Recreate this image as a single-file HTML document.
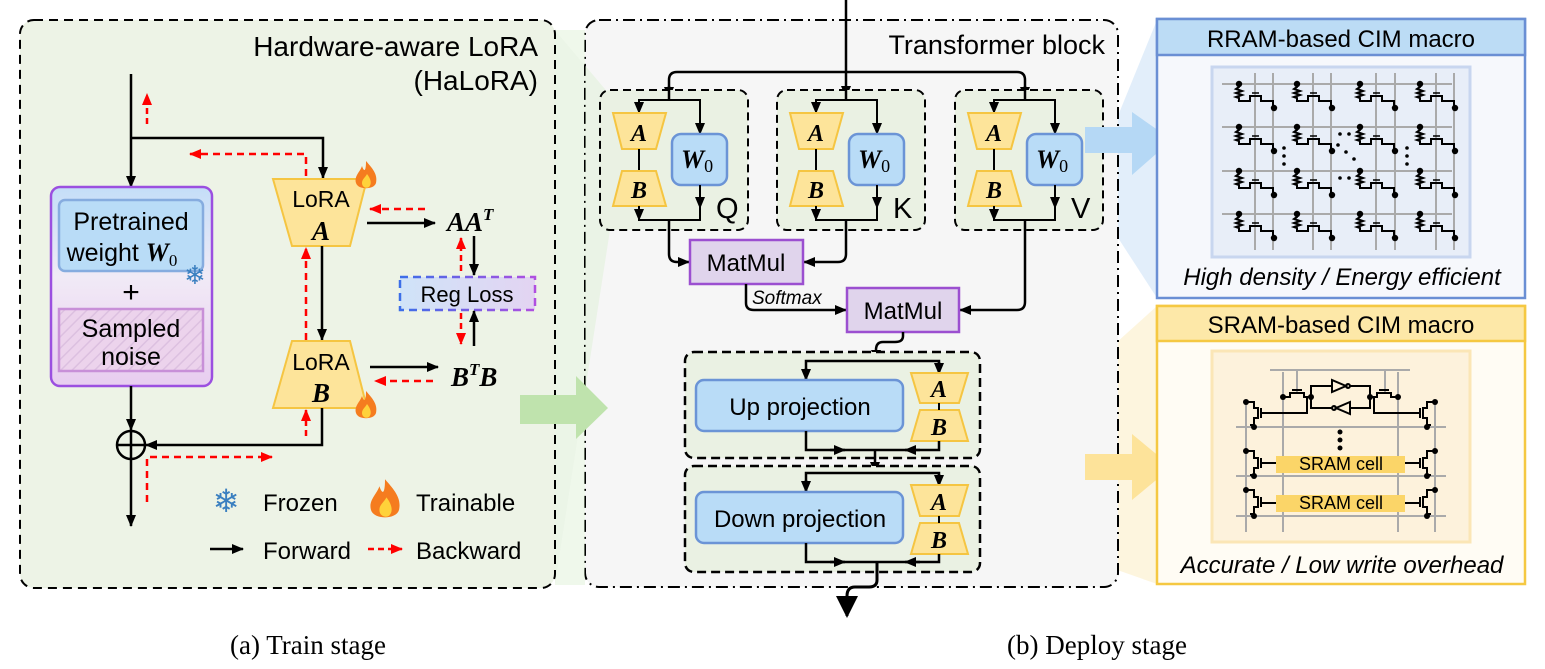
<!DOCTYPE html>
<html><head><meta charset="utf-8"><style>
html,body{margin:0;padding:0;background:#fff;}
svg{display:block;font-family:"Liberation Sans",sans-serif;}
.s{font-family:"Liberation Serif",serif;font-weight:bold;font-style:italic;}
</style></head><body>
<svg width="1545" height="669" viewBox="0 0 1545 669" xmlns="http://www.w3.org/2000/svg">
<defs>
<marker id="ak" markerUnits="userSpaceOnUse" markerWidth="12" markerHeight="12" refX="11" refY="6" orient="auto"><path d="M0,1 L12,6 L0,11 z" fill="#000"/></marker>
<marker id="ar" markerUnits="userSpaceOnUse" markerWidth="12" markerHeight="12" refX="11" refY="6" orient="auto"><path d="M0,1 L12,6 L0,11 z" fill="#f00"/></marker>
<marker id="abig" markerUnits="userSpaceOnUse" markerWidth="22" markerHeight="22" refX="20" refY="11" orient="auto"><path d="M0,0 L22,11 L0,22 z" fill="#000"/></marker>
<linearGradient id="gbox" x1="0" y1="0" x2="0" y2="1"><stop offset="0" stop-color="#c4def8"/><stop offset="0.45" stop-color="#f1eaf6"/><stop offset="1" stop-color="#e8cdf0"/></linearGradient>
<linearGradient id="greg" x1="0" y1="0" x2="1" y2="0"><stop offset="0" stop-color="#cfe3f8"/><stop offset="1" stop-color="#e3d4f2"/></linearGradient>
<linearGradient id="gregs" x1="0" y1="0" x2="1" y2="0"><stop offset="0" stop-color="#3c6ee8"/><stop offset="1" stop-color="#b04fe0"/></linearGradient>
<pattern id="hatch" width="8" height="8" patternUnits="userSpaceOnUse" patternTransform="rotate(45)"><rect width="8" height="8" fill="#ecd3ec"/><line x1="0" y1="0" x2="0" y2="8" stroke="#dcc0e0" stroke-width="3"/></pattern>
<g id="flame"><path d="M0,-17 C6,-10 12,-4 10,5 C8,12 -8,12 -10,5 C-12,-2 -6,-6 -4,-12 C-2,-6 0,-6 0,-17 z" fill="#f57c1f"/><path d="M1,-4 C5,1 6,6 3,9 C0,11 -4,9 -4,5 C-4,1 -1,0 1,-4 z" fill="#ffd23a"/></g>
<g id="qkv">
<rect x="0" y="0" width="148" height="140" rx="10" fill="#eaf1e3" stroke="#000" stroke-width="2" stroke-dasharray="8,5"/>
<polyline points="39,23 39,10 100,10 100,44" fill="none" stroke="#000" stroke-width="2"/>
<line x1="39" y1="10" x2="39" y2="23" stroke="#000" stroke-width="2" marker-end="url(#ak)"/>
<line x1="100" y1="30" x2="100" y2="44" stroke="#000" stroke-width="2" marker-end="url(#ak)"/>
<polygon points="13,23 66,23 56,59 22,59" fill="#fde49a" stroke="#f5c542" stroke-width="2"/>
<line x1="39" y1="59" x2="39" y2="81" stroke="#000" stroke-width="2"/>
<polygon points="22,81 56,81 66,116 13,116" fill="#fde49a" stroke="#f5c542" stroke-width="2"/>
<text x="39" y="51" class="s" font-size="24" text-anchor="middle">A</text>
<text x="39" y="108" class="s" font-size="24" text-anchor="middle">B</text>
<rect x="72" y="44" width="55" height="51" rx="9" fill="#b9dcf7" stroke="#6b94d6" stroke-width="2.5"/>
<text x="97" y="78" text-anchor="middle"><tspan class="s" font-size="26">W</tspan><tspan font-size="18" font-family="Liberation Serif" dy="4">0</tspan></text>
<polyline points="39,116 39,130 100,130 100,95" fill="none" stroke="#000" stroke-width="2"/>
<line x1="39" y1="118" x2="39" y2="130" stroke="#000" stroke-width="2" marker-end="url(#ak)"/>
<line x1="100" y1="100" x2="100" y2="118" stroke="#000" stroke-width="2" marker-end="url(#ak)"/>
</g>
<g id="cell"><path d="M0,0 V3 l-3,2 l6,2 l-6,2 l6,2 l-6,2 l3,1 V17 H11 V12 H22 V17 H34 V24" fill="none" stroke="#000" stroke-width="2"/><line x1="13" y1="9" x2="20" y2="9" stroke="#000" stroke-width="1.5"/><circle cx="0" cy="0" r="3.2"/><circle cx="35" cy="24" r="3.2"/></g>
</defs>

<!-- fans -->
<polygon points="555,30 610,95 610,230 555,585" fill="#d8ecd0" opacity="0.5"/>
<polygon points="1100,160 1157,20 1157,298 1100,210" fill="#cfe3f7" opacity="0.6"/>
<polygon points="975,470 1157,306 1157,584 975,520" fill="#fcefc8" opacity="0.6"/>

<!-- LEFT PANEL -->
<rect x="20" y="20" width="535" height="568" rx="14" fill="#edf3e6" stroke="#000" stroke-width="2" stroke-dasharray="9,6"/>
<text x="538" y="56" font-size="28" text-anchor="end">Hardware-aware LoRA</text>
<text x="538" y="90" font-size="28" text-anchor="end">(HaLoRA)</text>

<line x1="131" y1="74" x2="131" y2="187" stroke="#000" stroke-width="2.5" marker-end="url(#ak)"/>
<rect x="51" y="187" width="161" height="199" rx="9" fill="url(#gbox)" stroke="#9b4fe0" stroke-width="2.5"/>
<rect x="59" y="200" width="144" height="71" rx="6" fill="#b9dcf7" stroke="#86acdf" stroke-width="2.5"/>
<text x="131" y="230" font-size="25" text-anchor="middle">Pretrained</text>
<text x="122" y="261" font-size="25" text-anchor="middle">weight <tspan class="s" font-size="26">W</tspan><tspan font-family="Liberation Serif" font-size="17" dy="5">0</tspan></text>
<text x="195" y="284" font-size="26" fill="#3a7fc0" text-anchor="middle" font-family="DejaVu Sans">❄</text>
<text x="131" y="302" font-size="30" text-anchor="middle">+</text>
<rect x="59" y="309" width="144" height="62" fill="url(#hatch)" stroke="#c890d8" stroke-width="2.5"/>
<text x="131" y="337" font-size="25" text-anchor="middle">Sampled</text>
<text x="131" y="365" font-size="25" text-anchor="middle">noise</text>

<polyline points="131,138 323,138 323,178" fill="none" stroke="#000" stroke-width="2.5" marker-end="url(#ak)"/>
<polygon points="273,179 367,179 350,246 292,246" fill="#fde49a" stroke="#f5c542" stroke-width="2"/>
<text x="321" y="207" font-size="23" text-anchor="middle">LoRA</text>
<text x="321" y="240" class="s" font-size="27" text-anchor="middle">A</text>
<use href="#flame" x="366" y="178"/>
<line x1="322" y1="246" x2="322" y2="340" stroke="#000" stroke-width="2.5" marker-end="url(#ak)"/>
<polygon points="292,341 350,341 367,408 273,408" fill="#fde49a" stroke="#f5c542" stroke-width="2"/>
<text x="321" y="370" font-size="23" text-anchor="middle">LoRA</text>
<text x="321" y="402" class="s" font-size="27" text-anchor="middle">B</text>
<use href="#flame" x="366" y="408"/>

<line x1="367" y1="223" x2="435" y2="223" stroke="#000" stroke-width="2.5" marker-end="url(#ak)"/>
<text x="447" y="231" class="s" font-size="27">AA<tspan font-size="17" dy="-11">T</tspan></text>
<line x1="370" y1="367" x2="438" y2="367" stroke="#000" stroke-width="2.5" marker-end="url(#ak)"/>
<text x="451" y="386" class="s" font-size="27">B<tspan font-size="17" dy="-11">T</tspan><tspan dy="11">B</tspan></text>
<rect x="400" y="277" width="135" height="33" fill="url(#greg)" stroke="url(#gregs)" stroke-width="2.5" stroke-dasharray="8,5"/>
<text x="467" y="302" font-size="22" text-anchor="middle">Reg Loss</text>
<line x1="474" y1="236" x2="474" y2="275" stroke="#000" stroke-width="2.5" marker-end="url(#ak)"/>
<line x1="474" y1="346" x2="474" y2="311" stroke="#000" stroke-width="2.5" marker-end="url(#ak)"/>
<line x1="461" y1="271" x2="461" y2="238" stroke="#f00" stroke-width="2.5" stroke-dasharray="6,4" marker-end="url(#ar)"/>
<line x1="461" y1="313" x2="461" y2="344" stroke="#f00" stroke-width="2.5" stroke-dasharray="6,4" marker-end="url(#ar)"/>
<line x1="425" y1="209" x2="370" y2="209" stroke="#f00" stroke-width="2.5" stroke-dasharray="7,5" marker-end="url(#ar)"/>
<line x1="433" y1="381" x2="375" y2="381" stroke="#f00" stroke-width="2.5" stroke-dasharray="7,5" marker-end="url(#ar)"/>

<polyline points="306,176 306,154 190,154" fill="none" stroke="#f00" stroke-width="2.5" stroke-dasharray="7,5" marker-end="url(#ar)"/>
<line x1="147" y1="124" x2="147" y2="94" stroke="#f00" stroke-width="2.5" stroke-dasharray="6,4" marker-end="url(#ar)"/>
<line x1="306" y1="340" x2="306" y2="248" stroke="#f00" stroke-width="2.5" stroke-dasharray="7,5" marker-end="url(#ar)"/>
<line x1="306" y1="436" x2="306" y2="410" stroke="#f00" stroke-width="2.5" stroke-dasharray="6,4" marker-end="url(#ar)"/>
<polyline points="147,502 147,457 272,457" fill="none" stroke="#f00" stroke-width="2.5" stroke-dasharray="7,5" marker-end="url(#ar)"/>

<line x1="131" y1="386" x2="131" y2="430" stroke="#000" stroke-width="2.5" marker-end="url(#ak)"/>
<polyline points="322,408 322,445 146,445" fill="none" stroke="#000" stroke-width="2.5" marker-end="url(#ak)"/>
<circle cx="131" cy="445" r="14" fill="none" stroke="#000" stroke-width="2.5"/>
<line x1="117" y1="445" x2="145" y2="445" stroke="#000" stroke-width="2.5"/>
<line x1="131" y1="431" x2="131" y2="459" stroke="#000" stroke-width="2.5"/>
<line x1="131" y1="459" x2="131" y2="526" stroke="#000" stroke-width="2.5" marker-end="url(#ak)"/>

<text x="226" y="512" font-size="32" fill="#3a7fc0" text-anchor="middle" font-family="DejaVu Sans">❄</text>
<text x="263" y="511" font-size="24">Frozen</text>
<use href="#flame" x="385" y="503" transform="translate(385,503) scale(1.4) translate(-385,-503)"/>
<text x="416" y="511" font-size="24">Trainable</text>
<line x1="210" y1="549" x2="243" y2="549" stroke="#000" stroke-width="2.5" marker-end="url(#ak)"/>
<text x="263" y="559" font-size="24">Forward</text>
<line x1="368" y1="549" x2="402" y2="549" stroke="#f00" stroke-width="2.5" stroke-dasharray="6,4" marker-end="url(#ar)"/>
<text x="416" y="559" font-size="24">Backward</text>

<!-- MIDDLE PANEL -->
<rect x="585" y="20" width="533" height="567" rx="14" fill="#f6f6f6" stroke="#000" stroke-width="2" stroke-dasharray="12,5,2,5"/>
<polygon points="555,30 610,95 610,230 555,585 585,585 585,30" fill="#dcefd2" opacity="0.45"/>
<!-- green arrow -->
<polygon points="520,395 576,395 576,376 608,408 576,439 576,424 520,424" fill="#bfe3ad"/>
<text x="1105" y="54" font-size="27" text-anchor="end">Transformer block</text>
<path d="M669,97 V80 Q669,72 677,72 H1017 Q1025,72 1025,80 V97" fill="none" stroke="#000" stroke-width="2.5"/>
<line x1="846" y1="0" x2="846" y2="97" stroke="#000" stroke-width="2.5" marker-end="url(#ak)"/>
<line x1="669" y1="86" x2="669" y2="98" stroke="#000" stroke-width="2.5" marker-end="url(#ak)"/>
<line x1="1025" y1="86" x2="1025" y2="98" stroke="#000" stroke-width="2.5" marker-end="url(#ak)"/>
<use href="#qkv" x="600" y="90"/>
<use href="#qkv" x="777" y="90"/>
<use href="#qkv" x="955" y="90"/>
<text x="716" y="218" font-size="29">Q</text>
<text x="893" y="218" font-size="29">K</text>
<text x="1071" y="218" font-size="29">V</text>
<line x1="669" y1="90" x2="669" y2="100" stroke="#000" stroke-width="2.5"/>
<line x1="846" y1="90" x2="846" y2="100" stroke="#000" stroke-width="2.5"/>
<line x1="1025" y1="90" x2="1025" y2="100" stroke="#000" stroke-width="2.5"/>

<path d="M669,220 V254 Q669,262 677,262 H689" fill="none" stroke="#000" stroke-width="2.5" marker-end="url(#ak)"/>
<path d="M846,220 V254 Q846,262 838,262 H804" fill="none" stroke="#000" stroke-width="2.5" marker-end="url(#ak)"/>
<rect x="690" y="240" width="113" height="44" fill="#e0d4ec" stroke="#9b4fd0" stroke-width="2.5"/>
<text x="746" y="271" font-size="24" text-anchor="middle">MatMul</text>
<path d="M746,284 V303 Q746,310 754,310 H846" fill="none" stroke="#000" stroke-width="2.5" marker-end="url(#ak)"/>
<text x="752" y="304" font-size="19" font-style="italic">Softmax</text>
<path d="M1025,220 V302 Q1025,310 1017,310 H960" fill="none" stroke="#000" stroke-width="2.5" marker-end="url(#ak)"/>
<rect x="847" y="288" width="112" height="44" fill="#e0d4ec" stroke="#9b4fd0" stroke-width="2.5"/>
<text x="903" y="319" font-size="24" text-anchor="middle">MatMul</text>
<path d="M903,332 V336 Q903,342 895,342 H883 Q876,342 876,350 V361" fill="none" stroke="#000" stroke-width="2.5" marker-end="url(#ak)"/>

<!-- up proj -->
<rect x="685" y="352" width="295" height="106" rx="9" fill="#eaf1e3" stroke="#000" stroke-width="2.5" stroke-dasharray="9,5"/>
<polyline points="806,380 806,361 939,361 939,373" fill="none" stroke="#000" stroke-width="2.5"/>
<line x1="806" y1="368" x2="806" y2="380" stroke="#000" stroke-width="2.5" marker-end="url(#ak)"/>
<line x1="939" y1="362" x2="939" y2="374" stroke="#000" stroke-width="2.5" marker-end="url(#ak)"/>
<rect x="696" y="380" width="207" height="51" rx="8" fill="#b9dcf7" stroke="#6b94d6" stroke-width="2.5"/>
<text x="800" y="415" font-size="24" text-anchor="middle">Up projection</text>
<polygon points="911,373 968,373 959,403 920,403" fill="#fde49a" stroke="#f5c542" stroke-width="2"/>
<polygon points="920,410 959,410 968,441 911,441" fill="#fde49a" stroke="#f5c542" stroke-width="2"/>
<line x1="939" y1="403" x2="939" y2="410" stroke="#000" stroke-width="2"/>
<text x="939" y="397" class="s" font-size="24" text-anchor="middle">A</text>
<text x="939" y="435" class="s" font-size="24" text-anchor="middle">B</text>
<polyline points="806,431 806,450 939,450 939,441" fill="none" stroke="#000" stroke-width="2.5"/>
<line x1="830" y1="450" x2="845" y2="450" stroke="#000" stroke-width="2.5" marker-end="url(#ak)"/>
<line x1="920" y1="450" x2="905" y2="450" stroke="#000" stroke-width="2.5" marker-end="url(#ak)"/>
<line x1="875" y1="450" x2="875" y2="473" stroke="#000" stroke-width="2.5" marker-end="url(#ak)"/>

<!-- down proj -->
<rect x="685" y="466" width="295" height="106" rx="9" fill="#eaf1e3" stroke="#000" stroke-width="2.5" stroke-dasharray="9,5"/>
<polyline points="806,492 806,473 939,473 939,485" fill="none" stroke="#000" stroke-width="2.5"/>
<line x1="806" y1="480" x2="806" y2="492" stroke="#000" stroke-width="2.5" marker-end="url(#ak)"/>
<line x1="939" y1="474" x2="939" y2="486" stroke="#000" stroke-width="2.5" marker-end="url(#ak)"/>
<rect x="696" y="492" width="207" height="51" rx="8" fill="#b9dcf7" stroke="#6b94d6" stroke-width="2.5"/>
<text x="800" y="527" font-size="24" text-anchor="middle">Down projection</text>
<polygon points="911,485 968,485 959,516 920,516" fill="#fde49a" stroke="#f5c542" stroke-width="2"/>
<polygon points="920,523 959,523 968,554 911,554" fill="#fde49a" stroke="#f5c542" stroke-width="2"/>
<line x1="939" y1="516" x2="939" y2="523" stroke="#000" stroke-width="2"/>
<text x="939" y="510" class="s" font-size="24" text-anchor="middle">A</text>
<text x="939" y="548" class="s" font-size="24" text-anchor="middle">B</text>
<polyline points="806,543 806,562 939,562 939,554" fill="none" stroke="#000" stroke-width="2.5"/>
<line x1="830" y1="562" x2="845" y2="562" stroke="#000" stroke-width="2.5" marker-end="url(#ak)"/>
<line x1="920" y1="562" x2="905" y2="562" stroke="#000" stroke-width="2.5" marker-end="url(#ak)"/>
<path d="M877,562 V580 Q877,587 869,587 H855 Q847,587 847,596 V616" fill="none" stroke="#000" stroke-width="3" marker-end="url(#abig)"/>

<!-- blue / yellow arrows -->
<polygon points="1085,127 1132,127 1132,112 1172,140 1132,175 1132,153 1085,153" fill="#b5d8f5"/>
<polygon points="1085,454 1132,454 1132,434 1172,467 1132,500 1132,480 1085,480" fill="#fde39a"/>

<!-- RRAM -->
<rect x="1157" y="19" width="368" height="279" fill="#f6f8fc" stroke="#6a8fd4" stroke-width="2.5"/>
<rect x="1157" y="19" width="368" height="36" fill="#bcdcf5" stroke="#6a8fd4" stroke-width="2.5"/>
<text x="1341" y="47" font-size="24" text-anchor="middle">RRAM-based CIM macro</text>
<rect x="1212" y="67" width="258" height="190" fill="#e8eef8" stroke="#c8d6ef" stroke-width="3"/>
<g stroke="#aaa" stroke-width="2">
<line x1="1222" y1="84" x2="1452" y2="84"/><line x1="1222" y1="127" x2="1452" y2="127"/><line x1="1222" y1="171" x2="1452" y2="171"/><line x1="1222" y1="214" x2="1452" y2="214"/>
<line x1="1255" y1="73" x2="1255" y2="250"/><line x1="1273" y1="73" x2="1273" y2="250"/>
<line x1="1313" y1="73" x2="1313" y2="250"/><line x1="1331" y1="73" x2="1331" y2="250"/>
<line x1="1376" y1="73" x2="1376" y2="250"/><line x1="1395" y1="73" x2="1395" y2="250"/>
<line x1="1436" y1="73" x2="1436" y2="250"/><line x1="1454" y1="73" x2="1454" y2="250"/>
</g>
<use href="#cell" x="1239" y="84"/><use href="#cell" x="1297" y="84"/><use href="#cell" x="1360" y="84"/><use href="#cell" x="1420" y="84"/>
<use href="#cell" x="1239" y="127"/><use href="#cell" x="1297" y="127"/><use href="#cell" x="1360" y="127"/><use href="#cell" x="1420" y="127"/>
<use href="#cell" x="1239" y="171"/><use href="#cell" x="1297" y="171"/><use href="#cell" x="1360" y="171"/><use href="#cell" x="1420" y="171"/>
<use href="#cell" x="1239" y="214"/><use href="#cell" x="1297" y="214"/><use href="#cell" x="1360" y="214"/><use href="#cell" x="1420" y="214"/>
<g fill="#000"><circle cx="1284" cy="148" r="1.8"/><circle cx="1284" cy="156" r="1.8"/><circle cx="1284" cy="164" r="1.8"/>
<circle cx="1407" cy="148" r="1.8"/><circle cx="1407" cy="156" r="1.8"/><circle cx="1407" cy="164" r="1.8"/>
<circle cx="1340" cy="134" r="1.8"/><circle cx="1349" cy="134" r="1.8"/><circle cx="1340" cy="178" r="1.8"/><circle cx="1349" cy="178" r="1.8"/>
<circle cx="1338" cy="145" r="1.8"/><circle cx="1346" cy="152" r="1.8"/><circle cx="1354" cy="159" r="1.8"/></g>
<text x="1342" y="285" font-size="24" font-style="italic" text-anchor="middle">High density / Energy efficient</text>

<!-- SRAM -->
<rect x="1157" y="306" width="368" height="278" fill="#fffcf4" stroke="#f5c842" stroke-width="2.5"/>
<rect x="1157" y="306" width="368" height="35" fill="#fde8a8" stroke="#f5c842" stroke-width="2.5"/>
<text x="1341" y="333" font-size="24" text-anchor="middle">SRAM-based CIM macro</text>
<rect x="1212" y="351" width="258" height="191" fill="#fdf2dc" stroke="#fbe6b6" stroke-width="3"/>
<g stroke="#aaa" stroke-width="2">
<line x1="1270" y1="370" x2="1410" y2="370"/>
<line x1="1236" y1="427" x2="1446" y2="427"/><line x1="1236" y1="476" x2="1446" y2="476"/><line x1="1236" y1="516" x2="1446" y2="516"/>
<line x1="1246" y1="400" x2="1246" y2="532"/><line x1="1283" y1="372" x2="1283" y2="532"/>
<line x1="1398" y1="372" x2="1398" y2="532"/><line x1="1435" y1="400" x2="1435" y2="532"/>
<line x1="1297" y1="370" x2="1297" y2="392"/><line x1="1385" y1="370" x2="1385" y2="392"/>
</g>
<rect x="1276" y="456" width="129" height="17" fill="#fbd568"/>
<rect x="1276" y="495" width="129" height="17" fill="#fbd568"/>
<text x="1341" y="470" font-size="18" text-anchor="middle">SRAM cell</text>
<text x="1341" y="509" font-size="18" text-anchor="middle">SRAM cell</text>
<g fill="none" stroke="#000" stroke-width="2">
<path d="M1283,397 H1290 V393 H1304 V397 H1311"/><line x1="1292" y1="390" x2="1302" y2="390"/>
<path d="M1370,397 H1377 V393 H1391 V397 H1398"/><line x1="1379" y1="390" x2="1389" y2="390"/>
<path d="M1311,397 V386 H1332 M1350,386 H1370 V397 M1370,397 V408 H1350 M1332,408 H1311 V397"/>
<polygon points="1332,380 1332,392 1346,386" /><circle cx="1348" cy="386" r="2"/>
<polygon points="1350,402 1350,414 1336,408"/><circle cx="1334" cy="408" r="2"/>
<path d="M1307,397 V413 H1262"/><path d="M1374,397 V413 H1419"/>
<path d="M1246,402 H1254 V408 H1258 V418 H1254 V425 H1250"/><line x1="1261" y1="408" x2="1261" y2="418"/>
<path d="M1435,402 H1427 V408 H1423 V418 H1427 V425 H1431"/><line x1="1420" y1="408" x2="1420" y2="418"/>
<path d="M1246,451 H1254 V458 H1258 V468 H1254 V475 H1250"/><line x1="1261" y1="458" x2="1261" y2="468"/><line x1="1262" y1="463" x2="1276" y2="463"/>
<path d="M1435,451 H1427 V458 H1423 V468 H1427 V475 H1431"/><line x1="1420" y1="458" x2="1420" y2="468"/><line x1="1405" y1="463" x2="1419" y2="463"/>
<path d="M1246,490 H1254 V497 H1258 V507 H1254 V514 H1250"/><line x1="1261" y1="497" x2="1261" y2="507"/><line x1="1262" y1="503" x2="1276" y2="503"/>
<path d="M1435,490 H1427 V497 H1423 V507 H1427 V514 H1431"/><line x1="1420" y1="497" x2="1420" y2="507"/><line x1="1405" y1="503" x2="1419" y2="503"/>
</g>
<g fill="#000">
<circle cx="1283" cy="397" r="3"/><circle cx="1311" cy="397" r="3"/><circle cx="1370" cy="397" r="3"/><circle cx="1398" cy="397" r="3"/>
<circle cx="1246" cy="402" r="3"/><circle cx="1254" cy="427" r="3"/><circle cx="1435" cy="402" r="3"/><circle cx="1427" cy="427" r="3"/>
<circle cx="1246" cy="451" r="3"/><circle cx="1254" cy="476" r="3"/><circle cx="1435" cy="451" r="3"/><circle cx="1427" cy="476" r="3"/>
<circle cx="1246" cy="490" r="3"/><circle cx="1254" cy="516" r="3"/><circle cx="1435" cy="490" r="3"/><circle cx="1427" cy="516" r="3"/>
<circle cx="1340" cy="432" r="2.5"/><circle cx="1340" cy="440" r="2.5"/><circle cx="1340" cy="448" r="2.5"/>
</g>
<text x="1342" y="573" font-size="24" font-style="italic" text-anchor="middle">Accurate / Low write overhead</text>

<!-- captions -->
<text x="308" y="654" font-size="27" font-family="Liberation Serif" text-anchor="middle">(a) Train stage</text>
<text x="1097" y="654" font-size="27" font-family="Liberation Serif" text-anchor="middle">(b) Deploy stage</text>
</svg>
</body></html>
